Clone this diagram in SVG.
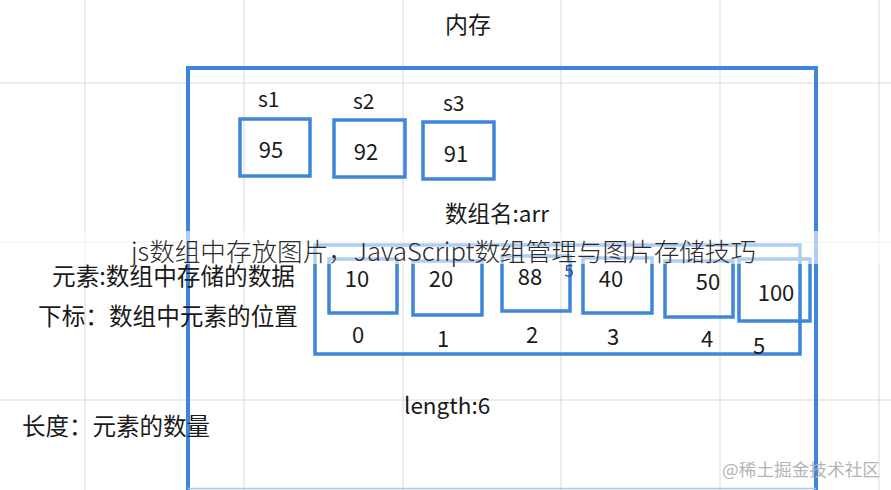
<svg xmlns="http://www.w3.org/2000/svg" width="891" height="490" viewBox="0 0 891 490">
<style>
.grid{stroke:#d9d9d9;stroke-width:1;fill:none}
.box{fill:none;stroke:#3e86da;stroke-width:3.5}
.big{fill:none;stroke:#3e86da;stroke-width:4}
.t{font-family:"Noto Sans CJK SC","Noto Sans",sans-serif;fill:#1a1a1a}
.num{font-size:22px;text-anchor:middle}
.lbl{font-size:23.5px}
</style>
<rect width="891" height="490" fill="#ffffff"/>
<g id="grid">
<path class="grid" d="M85 0V490M244 0V490M403 0V490M561 0V490M720 0V490M879 0V490M0 83H891M0 242H891M0 400H891"/>
</g>
<g id="memory">
<path class="big" d="M188 490V68H816V490"/>
<line x1="188" y1="488.5" x2="816" y2="488.5" stroke="#a9c6e8" stroke-width="1.5"/>
<text class="t" x="468" y="33" font-size="23" text-anchor="middle">内存</text>
</g>
<g id="s1">
<rect class="box" x="240" y="119" width="70" height="57"/>
<text class="t" x="258" y="107" font-size="21">s1</text>
<text class="t num" x="271" y="158" font-size="24">95</text>
</g>
<g id="s2">
<rect class="box" x="334" y="120" width="71" height="57"/>
<text class="t" x="353" y="109" font-size="21">s2</text>
<text class="t num" x="366" y="160" font-size="24">92</text>
</g>
<g id="s3">
<rect class="box" x="423" y="122" width="71" height="57"/>
<text class="t" x="443" y="111" font-size="21">s3</text>
<text class="t num" x="456" y="162" font-size="24">91</text>
</g>
<text class="t" x="445" y="222" font-size="22.5">数组名:arr</text>
<g id="arr">
<rect class="box" x="315" y="245" width="485" height="109"/>
</g>
<g id="e0"><rect class="box" x="329" y="259" width="68" height="54"/><text class="t num" x="357" y="287">10</text></g>
<g id="e1"><rect class="box" x="413" y="261" width="69" height="54"/><text class="t num" x="441" y="287">20</text></g>
<g id="e2"><rect class="box" x="502" y="256" width="68" height="55"/><text class="t num" x="530" y="285">88</text></g>
<g id="e3"><rect class="box" x="583" y="258" width="69" height="55"/><text class="t num" x="611" y="287">40</text></g>
<g id="e4"><rect class="box" x="665" y="261" width="68" height="56"/><text class="t num" x="708" y="290">50</text></g>
<g id="e5"><rect class="box" x="739" y="259" width="71" height="62"/><text class="t num" x="776" y="301">100</text></g>
<text class="t" x="569" y="277" font-size="17" text-anchor="middle" fill="#2a4f86" style="fill:#2a4f86">5</text>
<g id="idx">
<text class="t num" x="358" y="343">0</text>
<text class="t num" x="443" y="347">1</text>
<text class="t num" x="532" y="343">2</text>
<text class="t num" x="613" y="345">3</text>
<text class="t num" x="707" y="347">4</text>
<text class="t num" x="759" y="354">5</text>
</g>
<text class="t" x="404" y="414" font-size="22.5">length:6</text>
<text class="t lbl" x="52" y="285" textLength="243" lengthAdjust="spacingAndGlyphs">元素:数组中存储的数据</text>
<text class="t lbl" x="38" y="325" textLength="260" lengthAdjust="spacingAndGlyphs">下标：数组中元素的位置</text>
<text class="t lbl" x="22" y="435" textLength="188" lengthAdjust="spacingAndGlyphs">长度：元素的数量</text>
<rect x="0" y="231" width="891" height="33" fill="#ffffff" fill-opacity="0.6"/>
<text class="t" x="131" y="261" font-size="25" font-weight="300" style="fill:#2b2b2b" textLength="625" lengthAdjust="spacingAndGlyphs">js数组中存放图片，JavaScript数组管理与图片存储技巧</text>
<text class="t" x="722" y="476" font-size="17" style="fill:#b5b5b5" textLength="158" lengthAdjust="spacingAndGlyphs">@稀土掘金技术社区</text>
</svg>
